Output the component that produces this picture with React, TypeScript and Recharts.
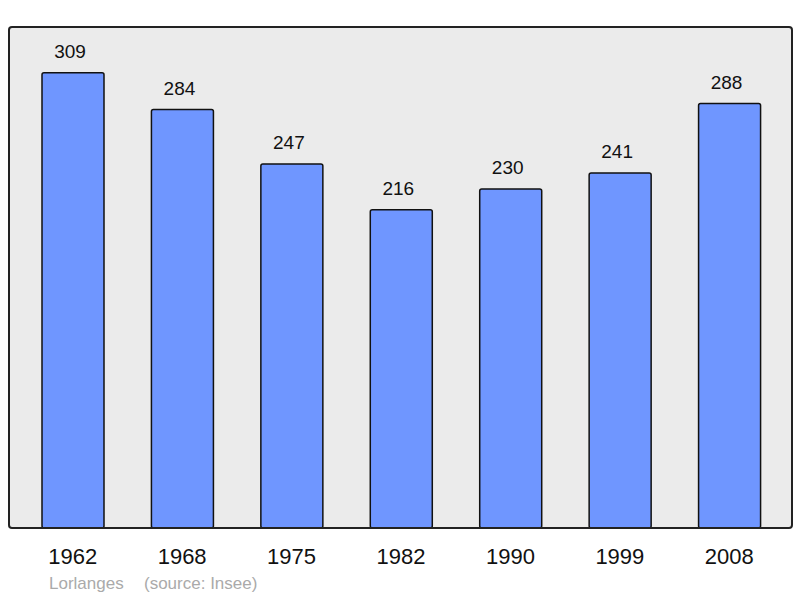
import React from 'react';
import { BarChart, Bar, XAxis, YAxis, CartesianGrid, LabelList } from 'recharts';

const years = ['1962', '1968', '1975', '1982', '1990', '1999', '2008'];
const population = [309, 284, 247, 216, 230, 241, 288];
const townName = 'Lorlanges';
const sourceText = '(source: Insee)';

const data = years.map((y, i) => ({ year: y, value: population[i] }));

const FONT = '"Liberation Sans", Arial, sans-serif';

export default function App() {
  return (
    <div style={{ position: 'absolute', left: 0, top: 0, width: 800, height: 598, background: '#fff', fontFamily: FONT }}>
      <BarChart
        width={800}
        height={598}
        data={data}
        margin={{ top: 27, right: 8, bottom: 30, left: 8 }}
        barSize={62}
      >
        <CartesianGrid horizontal={false} vertical={false} fill="#ebebeb" />
        <YAxis hide domain={[0, 340]} />
        <XAxis
          dataKey="year"
          height={40}
          axisLine={false}
          tickLine={false}
          tickSize={0}
          tickMargin={20}
          padding={{ left: 10, right: 8 }}
          interval={0}
          tick={{ fontSize: 22, fill: '#111', fontFamily: FONT }}
        />
        <Bar
          dataKey="value"
          fill="#6f96ff"
          stroke="#111"
          strokeWidth={1.5}
          radius={2}
          isAnimationActive={false}
        >
          <LabelList
            dataKey="value"
            position="top"
            offset={15}
            dx={-3}
            style={{ fontSize: 19, fill: '#111', fontFamily: FONT }}
          />
        </Bar>
      </BarChart>
      <div
        style={{
          position: 'absolute',
          left: 8,
          top: 26,
          width: 785,
          height: 503,
          boxSizing: 'border-box',
          border: '2px solid #222',
          borderRadius: 4,
          pointerEvents: 'none',
        }}
      />
      <div style={{ position: 'absolute', left: 49, top: 574, fontSize: 17, color: '#aaa', whiteSpace: 'nowrap' }}>
        {townName}
      </div>
      <div style={{ position: 'absolute', left: 144, top: 574, fontSize: 17, color: '#aaa', whiteSpace: 'nowrap' }}>
        {sourceText}
      </div>
    </div>
  );
}
